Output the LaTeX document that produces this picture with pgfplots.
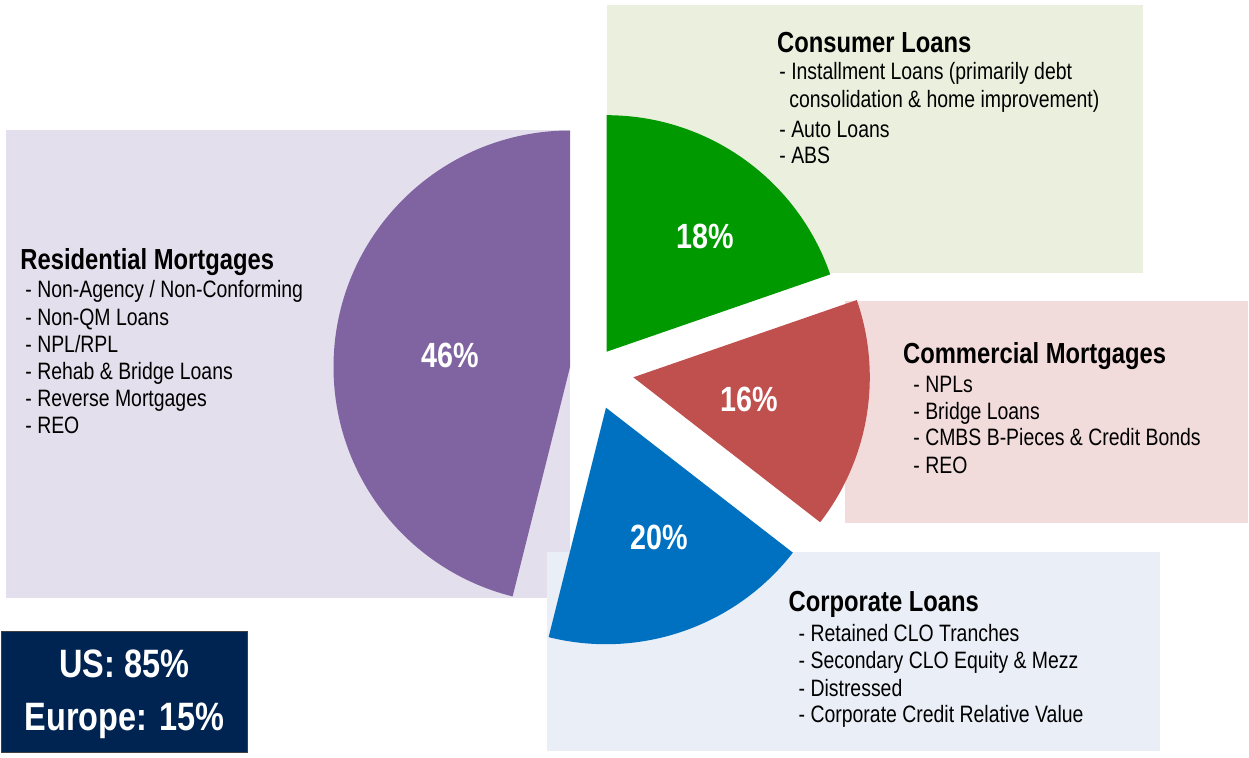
\documentclass[border=0pt]{standalone}
\usepackage{pgfplots}
\pgfplotsset{compat=1.18}
\usepackage{pgfplotstable}
\usepackage{fontspec}
\setmainfont{Liberation Sans}[FakeStretch=0.82]

\definecolor{resS}{HTML}{8064A2}
\definecolor{resB}{HTML}{E4DFEC}
\definecolor{conS}{HTML}{009900}
\definecolor{conB}{HTML}{EBF0DE}
\definecolor{comS}{HTML}{C0504D}
\definecolor{comB}{HTML}{F2DCDB}
\definecolor{corS}{HTML}{0070C0}
\definecolor{corB}{HTML}{EAEFF7}
\definecolor{navy}{HTML}{002451}

% share = angular share of each slice as drawn (%), label = printed value,
% ax/ay = apex of the exploded slice, lx/ly = label position (axis units)
\pgfplotstableread{
name        share label ax    ay    lx    ly
Residential 46.1  46    570.0 390.0 450.5 389.3
Consumer    19.7  18    606.7 405.3 705.0 508.7
Commercial  15.8  16    633.3 379.7 749.0 346.0
Corporate   18.4  20    606.0 349.3 659.0 207.7
}\piedata

\newcommand\getval[3]{\pgfplotstablegetelem{#1}{#2}\of\piedata\global\let#3\pgfplotsretval}

\newcommand\bodyfont{\fontsize{11.85}{13.5}\selectfont}
\newcommand\headfont{\fontsize{14.5}{16}\selectfont\bfseries}
\newcommand\pctfont{\fontsize{17.5}{20}\selectfont\bfseries}
\newcommand\usfont{\fontsize{19.8}{22}\selectfont\bfseries}

\begin{document}%
\begin{tikzpicture}
\getval{0}{share}\shA \getval{1}{share}\shB \getval{2}{share}\shC \getval{3}{share}\shD
\getval{0}{label}\lbA \getval{1}{label}\lbB \getval{2}{label}\lbC \getval{3}{label}\lbD
\getval{0}{ax}\axA \getval{1}{ax}\axB \getval{2}{ax}\axC \getval{3}{ax}\axD
\getval{0}{ay}\ayA \getval{1}{ay}\ayB \getval{2}{ay}\ayC \getval{3}{ay}\ayD
\getval{0}{lx}\lxA \getval{1}{lx}\lxB \getval{2}{lx}\lxC \getval{3}{lx}\lxD
\getval{0}{ly}\lyA \getval{1}{ly}\lyB \getval{2}{ly}\lyC \getval{3}{ly}\lyD
\pgfmathsetmacro\endA{90+3.6*\shA}
\pgfmathsetmacro\endB{90-3.6*\shB}
\pgfmathsetmacro\endC{\endB-3.6*\shC}
\pgfmathsetmacro\endD{\endC-3.6*\shD}
\def\R{118.25pt}
\begin{axis}[
  width=624.5pt, height=378.5pt, scale only axis,
  xmin=0, xmax=1249, ymin=0, ymax=757,
  hide axis, clip=false,
]
% full canvas (keeps the page the size of the whole chart)
\path (axis cs:0,0) rectangle (axis cs:1249,757);
% background boxes
\fill[resB] (axis cs:6,159) rectangle (axis cs:570,627);
\fill[conB] (axis cs:607,484) rectangle (axis cs:1143,752);
\fill[comB] (axis cs:845,233.7) rectangle (axis cs:1248,456.3);
\fill[corB] (axis cs:547,6.3) rectangle (axis cs:1160,205);
\filldraw[fill=navy, draw=black!75, line width=0.7pt] (axis cs:1.7,4.7) rectangle (axis cs:247.3,125.3);

% exploded pie slices
\fill[resS] (axis cs:\axA,\ayA) -- ++(90:\R) arc[start angle=90, end angle=\endA, radius=\R] -- cycle;
\fill[conS] (axis cs:\axB,\ayB) -- ++(\endB:\R) arc[start angle=\endB, end angle=90, radius=\R] -- cycle;
\fill[comS] (axis cs:\axC,\ayC) -- ++(\endC:\R) arc[start angle=\endC, end angle=\endB, radius=\R] -- cycle;
\fill[corS] (axis cs:\axD,\ayD) -- ++(\endD:\R) arc[start angle=\endD, end angle=\endC, radius=\R] -- cycle;

% slice labels
\node[anchor=base, text=white, font=\pctfont, inner sep=0pt] at (axis cs:\lxA,\lyA) {\lbA\%};
\node[anchor=base, text=white, font=\pctfont, inner sep=0pt] at (axis cs:\lxB,\lyB) {\lbB\%};
\node[anchor=base, text=white, font=\pctfont, inner sep=0pt] at (axis cs:\lxC,\lyC) {\lbC\%};
\node[anchor=base, text=white, font=\pctfont, inner sep=0pt] at (axis cs:\lxD,\lyD) {\lbD\%};

% Residential
\node[anchor=base west, font=\headfont, inner sep=0pt] at (axis cs:20,487.7) {Residential Mortgages};
\node[anchor=base west, font=\bodyfont, inner sep=0pt] at (axis cs:25,459) {- Non-Agency / Non-Conforming};
\node[anchor=base west, font=\bodyfont, inner sep=0pt] at (axis cs:25,432) {- Non-QM Loans};
\node[anchor=base west, font=\bodyfont, inner sep=0pt] at (axis cs:25,405) {- NPL/RPL};
\node[anchor=base west, font=\bodyfont, inner sep=0pt] at (axis cs:25,378) {- Rehab \& Bridge Loans};
\node[anchor=base west, font=\bodyfont, inner sep=0pt] at (axis cs:25,351) {- Reverse Mortgages};
\node[anchor=base west, font=\bodyfont, inner sep=0pt] at (axis cs:25,324) {- REO};

% Consumer
\node[anchor=base west, font=\headfont, inner sep=0pt] at (axis cs:776.7,704) {Consumer Loans};
\node[anchor=base west, font=\bodyfont, inner sep=0pt] at (axis cs:779,677) {- Installment Loans (primarily debt};
\node[anchor=base west, font=\bodyfont, inner sep=0pt] at (axis cs:789,649.7) {consolidation \& home improvement)};
\node[anchor=base west, font=\bodyfont, inner sep=0pt] at (axis cs:779,619.7) {- Auto Loans};
\node[anchor=base west, font=\bodyfont, inner sep=0pt] at (axis cs:779,593) {- ABS};

% Commercial
\node[anchor=base west, font=\headfont, inner sep=0pt] at (axis cs:902.7,393.7) {Commercial Mortgages};
\node[anchor=base west, font=\bodyfont, inner sep=0pt] at (axis cs:913,364.7) {- NPLs};
\node[anchor=base west, font=\bodyfont, inner sep=0pt] at (axis cs:913,338) {- Bridge Loans};
\node[anchor=base west, font=\bodyfont, inner sep=0pt] at (axis cs:913,311.3) {- CMBS B-Pieces \& Credit Bonds};
\node[anchor=base west, font=\bodyfont, inner sep=0pt] at (axis cs:913,283.7) {- REO};

% Corporate
\node[anchor=base west, font=\headfont, inner sep=0pt] at (axis cs:788.3,145.3) {Corporate Loans};
\node[anchor=base west, font=\bodyfont, inner sep=0pt] at (axis cs:798.3,116) {- Retained CLO Tranches};
\node[anchor=base west, font=\bodyfont, inner sep=0pt] at (axis cs:798.3,88.7) {- Secondary CLO Equity \& Mezz};
\node[anchor=base west, font=\bodyfont, inner sep=0pt] at (axis cs:798.3,61) {- Distressed};
\node[anchor=base west, font=\bodyfont, inner sep=0pt] at (axis cs:798.3,34.3) {- Corporate Credit Relative Value};

% Region split
\node[anchor=base, text=white, font=\usfont, inner sep=0pt] at (axis cs:124.5,79.7) {US: 85\%};
\node[anchor=base, text=white, font=\usfont, inner sep=0pt] at (axis cs:124.5,27) {Europe: 15\%};
\end{axis}
\end{tikzpicture}%
\end{document}
